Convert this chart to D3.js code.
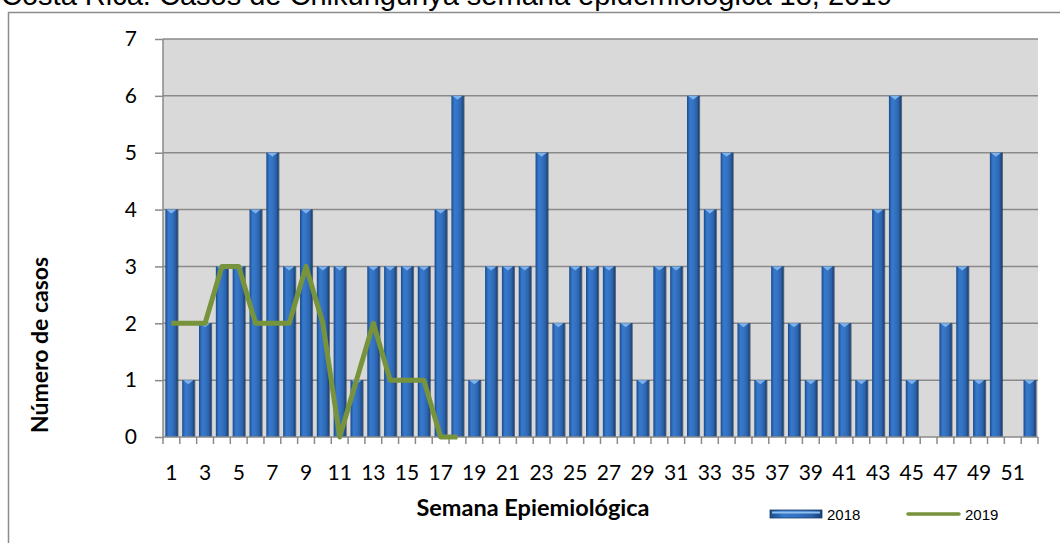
<!DOCTYPE html>
<html><head><meta charset="utf-8">
<script src="https://cdn.jsdelivr.net/npm/d3@7"></script>
<style>html,body{margin:0;padding:0;background:#fff;overflow:hidden}</style>
</head><body>
<script>
const weeks = d3.range(1, 53);
const cases2018 = [4,1,2,3,3,4,5,3,4,3,3,1,3,3,3,3,4,6,1,3,3,3,5,2,3,3,3,2,1,3,3,6,4,5,2,1,3,2,1,3,2,1,4,6,1,0,2,3,1,5,0,1];
const cases2019 = [2,2,2,3,3,2,2,2,3,2,0,1,2,1,1,1,0,0];
const yTicks = [0,1,2,3,4,5,6,7];
const xTickLabels = weeks.filter(w => w % 2 === 1);
const titleText = "Costa Rica: Casos de Chikungunya semana epidemiológica 18, 2019";
const yTitle = "Número de casos";
const xTitle = "Semana Epiemiológica";
const legendLabels = ["2018", "2019"];

(function(){
const W = 1060, H = 543;
const svg = d3.select("body").append("svg").attr("width", W).attr("height", H);
const defs = svg.append("defs");
const g1 = defs.append("linearGradient").attr("id","barGrad").attr("x1","0").attr("x2","1").attr("y1","0").attr("y2","0");
[["0%","#1a4a8a"],["25%","#3679cc"],["50%","#3573c4"],["80%","#2b63ab"],["100%","#173f76"]].forEach(s=>g1.append("stop").attr("offset",s[0]).attr("stop-color",s[1]));

// outer border
svg.append("rect").attr("x",8.5).attr("y",12.5).attr("width",1100).attr("height",600)
  .attr("fill","none").attr("stroke","#8c8c8c").attr("stroke-width",1.5);

// title (partly cut off at top, as in the reference)
svg.append("text").attr("x",1).attr("y",4.5).attr("font-family","Liberation Sans, Arial, sans-serif")
  .attr("font-size",29).attr("fill","#000").text(titleText);

const pL = 163, pR = 1038, pT = 39, pB = 437;
const x = d3.scaleBand().domain(weeks).range([pL, pR]).paddingInner(0.28).paddingOuter(0.14);
const y = d3.scaleLinear().domain([0,7]).range([pB, pT]);

svg.append("rect").attr("x",pL).attr("y",pT).attr("width",pR-pL).attr("height",pB-pT).attr("fill","#d9d9d9");

svg.append("g").selectAll("line").data(yTicks.filter(t=>t>0)).join("line")
  .attr("x1",pL).attr("x2",pR).attr("y1",d=>y(d)).attr("y2",d=>y(d))
  .attr("stroke","#8a8a8a").attr("stroke-width",1.5);

const bars = svg.append("g");
weeks.forEach((w,i)=>{
  const v = cases2018[i];
  if (v <= 0) return;
  const bx = x(w), bw = x.bandwidth(), by = y(v);
  bars.append("rect").attr("x",bx+1).attr("y",by).attr("width",bw).attr("height",pB-by).attr("fill","#0b1e3a").attr("opacity",0.6);
  bars.append("rect").attr("x",bx).attr("y",by).attr("width",bw).attr("height",pB-by).attr("fill","url(#barGrad)");
  bars.append("path").attr("d",`M${bx+1},${by} L${bx+bw-1},${by} L${bx+bw/2},${by+4} Z`).attr("fill","#7fb2ea");
});

const yAxis = d3.axisLeft(y).tickValues(yTicks).tickSize(8).tickPadding(18).tickFormat(d3.format("d"));
const ya = svg.append("g").attr("transform",`translate(${pL},0)`).call(yAxis);
ya.select(".domain").attr("stroke","#8a8a8a").attr("stroke-width",1.5).attr("d",`M0,${pT}V${pB}`);
ya.selectAll(".tick line").attr("stroke","#8a8a8a").attr("stroke-width",1.5);
ya.selectAll(".tick text").attr("font-family","Lato, sans-serif").attr("font-size",21).attr("fill","#000");

const xa = svg.append("g").attr("transform",`translate(0,${pB})`);
xa.append("line").attr("x1",pL).attr("x2",pR).attr("stroke","#8a8a8a").attr("stroke-width",1.5);
const boundaries = d3.range(0, 53).map(i => pL + (pR-pL) * i / 52);
xa.selectAll("line.tk").data(boundaries).join("line").attr("class","tk")
  .attr("x1",d=>d).attr("x2",d=>d).attr("y1",0).attr("y2",7).attr("stroke","#8a8a8a").attr("stroke-width",1.5);
xa.selectAll("text").data(xTickLabels).join("text")
  .attr("x",d=>x(d)+x.bandwidth()/2).attr("y",43).attr("text-anchor","middle")
  .attr("font-family","Lato, sans-serif").attr("font-size",21).attr("fill","#000").text(d=>d);

const line = d3.line().x((d,i)=>x(weeks[i])+x.bandwidth()/2).y(d=>y(d));
svg.append("path").datum(cases2019).attr("d",line).attr("fill","none")
  .attr("stroke","#77933c").attr("stroke-width",5).attr("stroke-linejoin","round");

svg.append("text").attr("transform","translate(48,345) rotate(-90)").attr("text-anchor","middle")
  .attr("font-family","Lato, sans-serif").attr("font-weight","bold").attr("font-size",23).text(yTitle);
svg.append("text").attr("x",533).attr("y",516).attr("text-anchor","middle")
  .attr("font-family","Lato, sans-serif").attr("font-weight","bold").attr("font-size",23.5).text(xTitle);

const lg = svg.append("g");
lg.append("rect").attr("x",770).attr("y",510).attr("width",52).attr("height",8).attr("fill","url(#barGrad)").attr("stroke","#1d3f6e").attr("stroke-width",0.8);
lg.append("rect").attr("x",772).attr("y",511.5).attr("width",48).attr("height",2).attr("fill","#8fc0f0");
lg.append("text").attr("x",827).attr("y",519.5).attr("font-family","Liberation Sans, Arial, sans-serif").attr("font-size",15).text(legendLabels[0]);
lg.append("line").attr("x1",908).attr("x2",959).attr("y1",514).attr("y2",514).attr("stroke","#77933c").attr("stroke-width",3.5).attr("stroke-linecap","round");
lg.append("text").attr("x",965).attr("y",519.5).attr("font-family","Liberation Sans, Arial, sans-serif").attr("font-size",15).text(legendLabels[1]);
})();
</script>
</body></html>
